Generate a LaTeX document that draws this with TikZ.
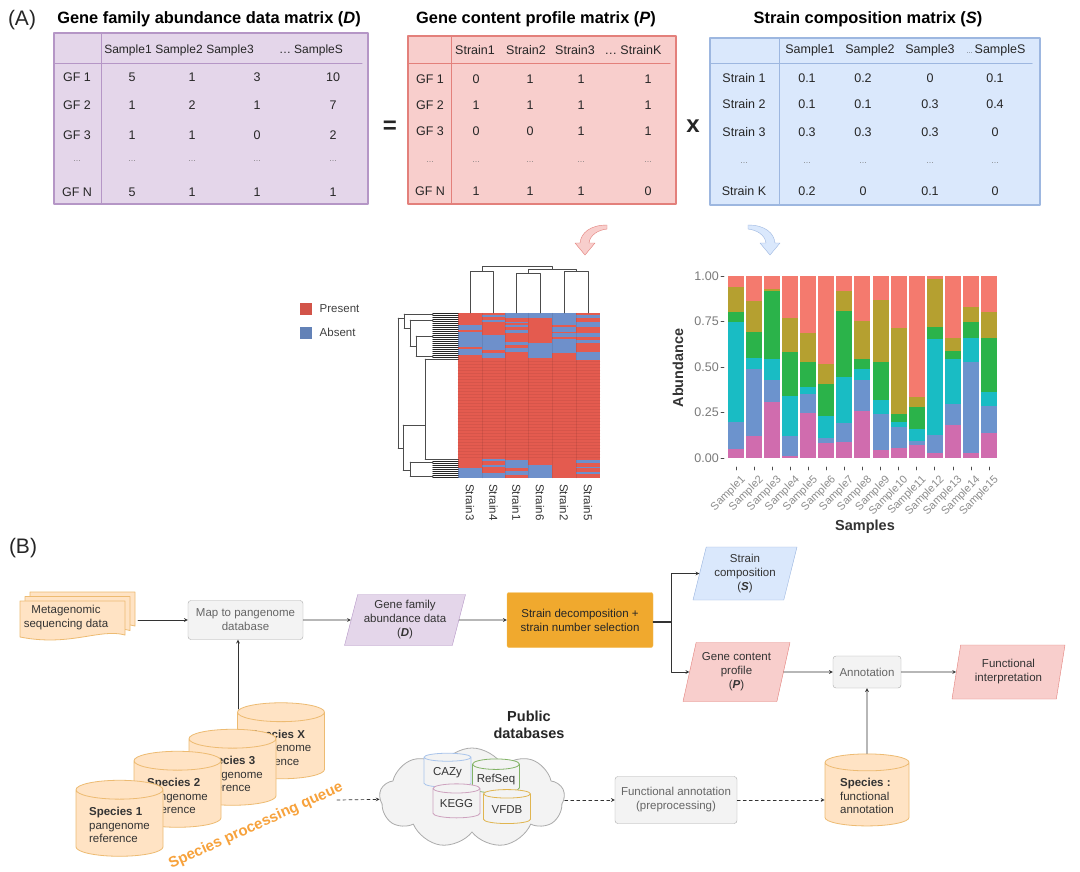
\documentclass[tikz,border=0pt]{standalone}
\usepackage{fontspec}
\setmainfont{Liberation Sans}
\usetikzlibrary{shapes.geometric,shapes.symbols,positioning}
\newcommand\fs[2]{\fontsize{#1}{#2}\selectfont}
\definecolor{purfill}{HTML}{E4D6EA}
\definecolor{purline}{HTML}{B596C6}
\definecolor{redfill}{HTML}{F8CECC}
\definecolor{redline}{HTML}{E3807B}
\definecolor{bluefill}{HTML}{DAE8FC}
\definecolor{blueline}{HTML}{9DB7E0}
\definecolor{grayfill}{HTML}{F3F3F3}
\definecolor{grayline}{HTML}{ABABAB}
\definecolor{graytext}{HTML}{666666}
\definecolor{orfill}{HTML}{FFE3C4}
\definecolor{orline}{HTML}{EDBB72}
\definecolor{decfill}{HTML}{F0A92E}
\definecolor{decline}{HTML}{F5C05A}
\definecolor{queue}{HTML}{F7A23C}
\definecolor{hmred}{HTML}{E45B4F}
\definecolor{hmblue}{HTML}{6E90CB}
\definecolor{axgray}{HTML}{7A7A7A}
\definecolor{bRed}{HTML}{F47A6E}
\definecolor{bOli}{HTML}{B5A030}
\definecolor{bGrn}{HTML}{2BB34A}
\definecolor{bCyn}{HTML}{19BCC4}
\definecolor{bBlu}{HTML}{6C93CD}
\definecolor{bMag}{HTML}{D06CAE}
\definecolor{dbblue}{HTML}{A9C4EB}
\definecolor{dbgreen}{HTML}{82B366}
\definecolor{dbpink}{HTML}{CDA2BE}
\definecolor{dborange}{HTML}{E0B550}

\begin{document}
\begin{tikzpicture}[line join=round, line cap=round, >=stealth, x=1pt, y=-1pt,
  font=\fs{12.5}{14}, text=black!85,
  mtitle/.style={font=\bfseries\fs{16.4}{19}, text=black},
  dots/.style={font=\fs{8}{9}, text=black!55},
  arr/.style={->, draw=black!80, line width=.7pt},
  box/.style={draw=grayline, fill=grayfill, rounded corners=3pt, text=graytext, align=center, font=\fs{11.5}{14}},
  para/.style={trapezium, trapezium left angle=72, trapezium right angle=108, trapezium stretches body, draw=#1line, fill=#1fill, align=center, font=\fs{11.5}{14}, text=black!80, inner sep=1pt},
  db/.style={cylinder, shape border rotate=90, aspect=.28, draw=orline, fill=orfill, align=left, font=\fs{11.5}{13.5}, text=black!80, line width=.8pt}]
\useasboundingbox[fill=white] (0,0) rectangle (1080,871);

% (A) matrices
\node[font=\fs{21}{24}] (A) at (22,20) {(A)};
\draw[purline, fill=purfill, line width=1.2pt] (54,33) rectangle (368,204);
\draw[purline, line width=1pt] (101,33) -- (101,204) (54,63) -- (362,63);
\node[mtitle] (tD) at (209,19) {Gene family abundance data matrix (\textit{D})};
\foreach \x/\t in {128/Sample1,179/Sample2,230/Sample3,311/{…\hspace{3pt}SampleS}} \node[font=\fs{12}{13}] (dh\x) at (\x,50) {\t};
\foreach \y/\r/\a/\b/\c/\d in {77/GF 1/5/1/3/10,105/GF 2/1/2/1/7,135/GF 3/1/1/0/2,192/GF N/5/1/1/1}{
  \node (dr\y) at (77,\y) {\r};
  \foreach \x/\v in {132/\a,192/\b,257/\c,333/\d} \node (d\y-\x) at (\x,\y) {\v};
}
\foreach \x in {77,132,192,257,333} \node[dots] (dd\x) at (\x,161) {…};

\node[font=\bfseries\fs{24}{26}] (eq) at (390,127) {=};

\draw[redline, fill=redfill, line width=1.2pt] (408,36) rectangle (676,204);
\draw[redline, line width=1pt] (451,36) -- (451,204) (408,63) -- (670,63);
\node[mtitle] (tP) at (536,19) {Gene content profile matrix (\textit{P})};
\foreach \x/\t in {475/Strain1,526/Strain2,575/Strain3,633/{… StrainK}} \node (ph\x) at (\x,50) {\t};
\foreach \y/\r/\a/\b/\c/\d in {79/GF 1/0/1/1/1,105/GF 2/1/1/1/1,131/GF 3/0/0/1/1,191/GF N/1/1/1/0}{
  \node (pr\y) at (430,\y) {\r};
  \foreach \x/\v in {476/\a,530/\b,581/\c,648/\d} \node (p\y-\x) at (\x,\y) {\v};
}
\foreach \x in {430,476,530,581,648} \node[dots] (pd\x) at (\x,162) {…};

\node[font=\bfseries\fs{24}{26}] (times) at (693,126) {x};

\draw[blueline, fill=bluefill, line width=1.2pt] (710,38) rectangle (1040,205);
\draw[blueline, line width=1pt] (779,38) -- (779,205) (710,63) -- (1032,63);
\node[mtitle] (tS) at (868,19) {Strain composition matrix (\textit{S})};
\foreach \x/\t in {810/Sample1,870/Sample2,930/Sample3,996/{{\fs{6}{7}…}\,SampleS}} \node (sh\x) at (\x,50) {\t};
\foreach \y/\r/\a/\b/\c/\d in {78/Strain 1/0.1/0.2/0/0.1,104/Strain 2/0.1/0.1/0.3/0.4,132/Strain 3/0.3/0.3/0.3/0,191/Strain K/0.2/0/0.1/0}{
  \node (sr\y) at (744,\y) {\r};
  \foreach \x/\v in {807/\a,863/\b,930/\c,995/\d} \node (s\y-\x) at (\x,\y) {\v};
}
\foreach \x in {744,807,863,930,995} \node[dots] (sd\x) at (\x,163) {…};

% curved arrows
\draw[redline, fill=redfill] (607,225) .. controls (590,225) and (581,233) .. (580,243) -- (575,243) -- (585,255) -- (595,243) -- (589,243) .. controls (590,235) and (598,230) .. (607,229) -- cycle;
\draw[blueline, fill=bluefill] (748,225) .. controls (765,225) and (774,233) .. (775,243) -- (780,243) -- (770,255) -- (760,243) -- (766,243) .. controls (765,235) and (757,230) .. (748,229) -- cycle;

% heatmap
\node[fill=hmred!92!black, minimum size=12pt, inner sep=0pt] (lp) at (306,308.5) {};
\node[right=4pt of lp, font=\fs{11.5}{13}, text=black!75] (lpt) {Present};
\node[fill=hmblue!90!black, minimum size=12pt, inner sep=0pt] (la) at (306,332.5) {};
\node[right=4pt of la, font=\fs{11.5}{13}, text=black!75] (lat) {Absent};
\fill[hmred] (458,313) rectangle (600,478);
\foreach \xa/\xb/\segs in {458/482/{325/330,332/347,349/355,468/478},482/505/{315/317,320/322,335/350,353/358,459/461,465/467,473/478},505/528/{313/318,322/323,325/327,330/333,342/345,348/352,460/468,471/475},528/552/{313/318,343/358,465/478},552/576/{313/325,327/332,333/337,339/353},576/600/{315/318,322/327,333/337,340/343,352/360,460/463,467/468,472/474}}
  \foreach \ya/\yb in \segs \fill[hmblue] (\xa,\ya) rectangle (\xb,\yb);
\foreach \y in {361,364,...,458} \draw[hmred!80!black, opacity=.3, line width=.4pt] (458,\y) -- (600,\y);
\foreach \x in {482,505,528,552,576} \draw[black, opacity=.08, line width=.5pt] (\x,313) -- (\x,478);
\foreach \x/\t in {470/Strain3,493.5/Strain4,516.5/Strain1,540/Strain6,564/Strain2,588/Strain5} \node[rotate=-90, anchor=west, font=\fs{11.5}{13}, text=black!80, inner sep=1pt] (h\t) at (\x,483) {\t};
\draw[black!70, line width=.6pt] (470,313) -- (470,271) -- (493.5,271) -- (493.5,313)
  (516.5,313) -- (516.5,273) -- (540,273) -- (540,313)
  (564,313) -- (564,271) -- (588,271) -- (588,313)
  (528,273) -- (528,269) -- (576,269) -- (576,271)
  (482,271) -- (482,266) -- (552,266) -- (552,269);
\foreach \y in {313.5,315.5,...,359.5} \draw[black!85, line width=1.1pt] (433,\y) -- (458,\y);
\foreach \y in {459.5,461.5,...,477.5} \draw[black!85, line width=1.1pt] (433,\y) -- (458,\y);
\draw[black!70, line width=.5pt] (398,318) -- (398,448)
  (398,318) -- (404,318) (404,314) -- (404,328) (404,314) -- (433,314) (404,328) -- (410,328)
  (410,320) -- (410,346) (410,320) -- (433,320) (410,346) -- (416,346) (416,336) -- (416,356) (416,336) -- (433,336) (416,356) -- (433,356)
  (398,448) -- (403,448) (403,425) -- (403,470) (403,470) -- (410,470) (410,462) -- (410,476) (410,462) -- (433,462) (410,476) -- (433,476)
  (403,425) -- (425,425) (425,359) -- (425,459) (425,359) -- (458,359) (425,459) -- (458,459);

% bar chart
\foreach \v/\t in {0/0.00,.25/0.25,.5/0.50,.75/0.75,1/1.00}{
  \node[anchor=east, text=axgray, inner sep=1pt] (y\t) at (720,{458-182*\v}) {\t};
  \draw[black!70, line width=.6pt] (721,{458-182*\v}) -- (724,{458-182*\v});
}
\foreach \i/\a/\b/\c/\d/\e in {1/.05/.20/.75/.80/.94,2/.12/.49/.55/.69/.86,3/.31/.43/.545/.92/.93,4/.013/.12/.34/.585/.77,5/.25/.353/.39/.53/.685,6/.08/.11/.23/.405/.515,7/.09/.19/.445/.805/.915,8/.256/.43/.49/.545/.755,9/.046/.24/.32/.53/.87,10/.055/.17/.196/.24/.717,11/.073/.095/.16/.278/.335,12/.027/.124/.655/.722/.985,13/.18/.296/.543/.59/.662,14/.03/.53/.658/.746/.828,15/.137/.287/.36/.662/.804}{
  \pgfmathsetmacro\xl{728+18.07*(\i-1)}
  \fill[bMag] (\xl,458) rectangle ({\xl+16},{458-182*\a});
  \fill[bBlu] (\xl,{458-182*\a}) rectangle ({\xl+16},{458-182*\b});
  \fill[bCyn] (\xl,{458-182*\b}) rectangle ({\xl+16},{458-182*\c});
  \fill[bGrn] (\xl,{458-182*\c}) rectangle ({\xl+16},{458-182*\d});
  \fill[bOli] (\xl,{458-182*\d}) rectangle ({\xl+16},{458-182*\e});
  \fill[bRed] (\xl,{458-182*\e}) rectangle ({\xl+16},276);
  \draw[black!70, line width=.6pt] ({\xl+8},467) -- ({\xl+8},470);
  \node[rotate=45, anchor=north east, font=\fs{11}{12}, text=black!45, inner sep=1pt] (x\i) at ({\xl+12},473) {Sample\i};
}
\node[rotate=90, font=\bfseries\fs{14.4}{16}, text=black!80] (ylab) at (678,368) {Abundance};
\node[font=\bfseries\fs{14.5}{16}, text=black!80] (xlab) at (865,527) {Samples};

% (B) workflow
\node[font=\fs{21}{24}] (B) at (23,548) {(B)};
\foreach \d in {10,5,0}
  \draw[orline, fill=orfill, line width=.8pt] ({20+\d},{601-\d*.9}) -- ({125+\d},{601-\d*.9}) -- ({125+\d},{635-\d*.9}) .. controls ({100+\d},{628-\d*.9}) and ({70+\d},{647-\d*.9}) .. ({20+\d},{637-\d*.9}) -- cycle;
\node[align=center, font=\fs{11.5}{14}, text=black!80] (meta) at (66,618) {Metagenomic\\sequencing data};
\coordinate (stack) at (138,620);
\node[box, minimum width=115pt, minimum height=39pt] (map) at (245.5,620) {Map to pangenome\\database};
\node[para=pur, minimum width=121pt, minimum height=51pt] (abd) at (405,620) {Gene family\\abundance data\\(\textbf{\textit{D}})};
\node[draw=decline, fill=decfill, rounded corners=2pt, minimum width=146pt, minimum height=55pt, align=center, font=\fs{11.5}{14}, text=black!85] (dec) at (580,620) {Strain decomposition +\\strain number selection};
\coordinate (jn) at (671,622);
\node[para=blue, minimum width=104pt, minimum height=53pt] (scomp) at (745,573.5) {Strain\\composition\\(\textbf{\textit{S}})};
\node[para=red, minimum width=107pt, minimum height=59pt] (gcp) at (736.5,672) {Gene content\\profile\\(\textbf{\textit{P}})};
\node[box, minimum width=68pt, minimum height=32pt] (annot) at (867,672) {Annotation};
\node[para=red, minimum width=113pt, minimum height=54pt] (funi) at (1008.5,672) {Functional\\interpretation};

\foreach \n/\x/\y/\t in {sX/281/747.5/X,s3/232.5/774/3,s2/177.5/796/2,s1/119.5/825/1}
  \node[db, minimum width=87pt, minimum height=76pt] (\n) at (\x,\y) {\textbf{Species \t}\\pangenome\\reference};
\node[rotate=24.4, text=queue, font=\bfseries\fs{15}{18}] (queue) at (256,826) {Species processing queue};
\coordinate (qtop) at (238,709);
\coordinate (qend) at (337,800);

\node[font=\bfseries\fs{14.5}{17}, align=center, text=black!85] (pubt) at (529,725) {Public\\databases};
\node[cloud, cloud puffs=9, cloud puff arc=120, aspect=1.8, draw=grayline, fill=grayfill, line width=.8pt, minimum width=185pt, minimum height=100pt] (pub) at (472,798) {};
\foreach \n/\x/\y/\c in {CAZy/447.5/773/dbblue,RefSeq/496/779.5/dbgreen,KEGG/456.5/804/dbpink,VFDB/507/809.5/dborange}
  \node[cylinder, shape border rotate=90, aspect=.26, draw=\c, fill=grayfill, line width=.8pt, minimum width=47pt, minimum height=34pt, font=\fs{11.5}{13}, text=black!80, inner sep=1pt] (\n) at (\x,\y) {\n};
\node[box, minimum width=122pt, minimum height=47pt] (prep) at (676,800) {Functional annotation\\(preprocessing)};
\node[db, minimum width=84pt, minimum height=72pt] (spfa) at (867,796) {\textbf{Species :}\\functional\\annotation};

\draw[arr] (stack) -- (stack -| map.west);
\draw[arr] (map) -- (abd);
\draw[arr] (abd) -- (dec);
\draw[black!80, line width=1.2pt] (dec.east |- jn) -- (jn);
\draw[arr] (jn) |- (scomp);
\draw[arr] (jn) |- (gcp);
\draw[arr] (gcp) -- (annot);
\draw[arr] (annot) -- (funi);
\draw[arr] (qtop) -- (qtop |- map.south);
\draw[arr, dashed] (qend) -- (pub);
\draw[arr, dashed] (pub.east |- prep) -- (prep);
\draw[arr, dashed] (prep.east) -- (prep.east -| spfa.west);
\draw[arr] (spfa) -- (annot);
\end{tikzpicture}
\end{document}
